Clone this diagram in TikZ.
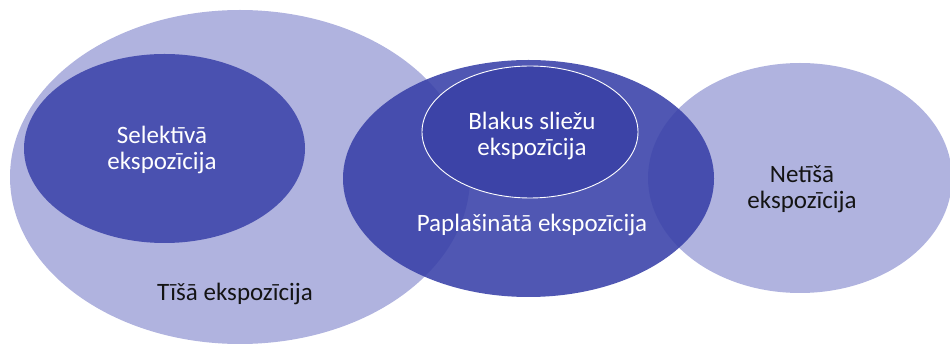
\documentclass[tikz,border=0pt]{standalone}
\usepackage{fontspec}
\setmainfont{Carlito}
\usetikzlibrary{shapes.geometric}
\definecolor{lightv}{HTML}{B0B3DF}
\definecolor{darkv}{HTML}{4A51B0}
\definecolor{midv}{HTML}{3840A8}
\definecolor{innerv}{HTML}{3C43A7}
\definecolor{txtdark}{HTML}{141414}
\tikzset{
  lbl/.style={font=\fontsize{25}{26}\selectfont, align=center, inner sep=0pt},
  onlight/.style={lbl, text=txtdark},
  ondark/.style={lbl, text=white}
}
\begin{document}
\begin{tikzpicture}[x=1pt,y=-1pt]
\useasboundingbox (0,0) rectangle (950,344);
\clip (0,0) rectangle (950,344);
% shapes
\fill[lightv] (240,177) ellipse [x radius=230, y radius=167];
\fill[darkv] (164.5,148.5) ellipse [x radius=140.5, y radius=94.5];
\fill[lightv] (800,178) ellipse [x radius=152, y radius=115];
\fill[midv, fill opacity=0.88] (528.5,178.5) ellipse [x radius=185.5, y radius=118.5];
\filldraw[fill=innerv, draw=white, line width=0.9pt] (530,132) ellipse [x radius=108, y radius=66];
% texts
\node[ondark] (sel) at (162,150) {Selektīvā\\ekspozīcija};
\node[onlight, anchor=base] (tisa) at (235,301) {Tīšā ekspozīcija};
\node[ondark] (blak) at (532,136) {Blakus sliežu\\ekspozīcija};
\node[ondark, anchor=base] (papl) at (532,232) {Paplašinātā ekspozīcija};
\node[onlight] (neti) at (802,189) {Netīšā\\ekspozīcija};
\end{tikzpicture}
\end{document}
